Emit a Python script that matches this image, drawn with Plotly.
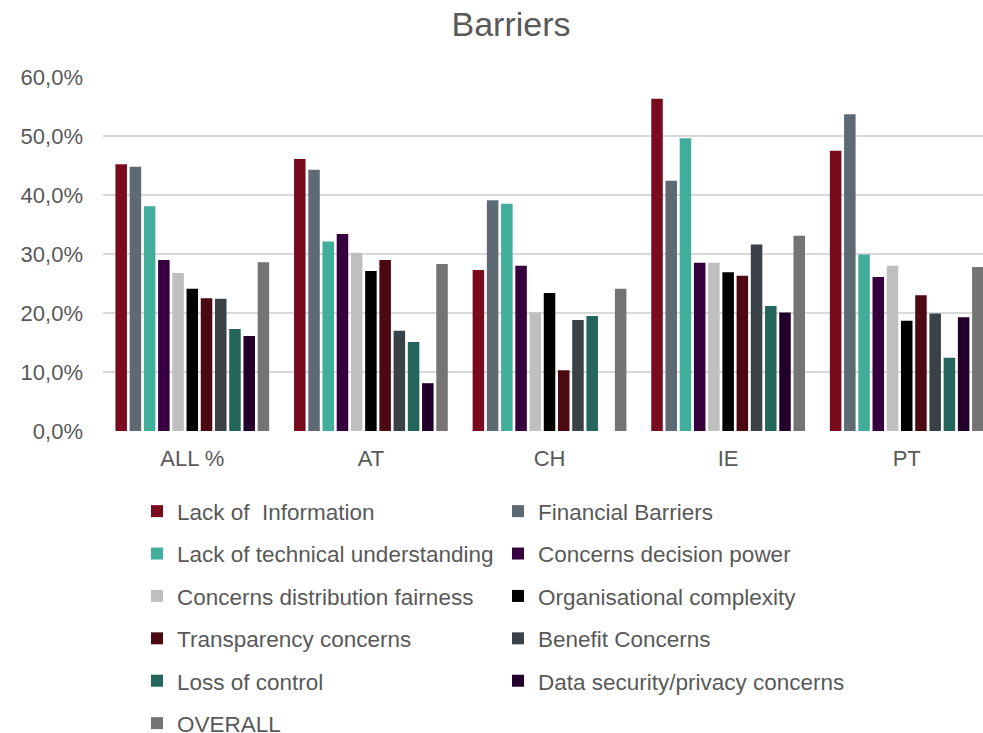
import plotly.graph_objects as go

# Survey groups on the category axis
groups = ["ALL %", "AT", "CH", "IE", "PT"]

# Share of respondents naming each barrier (percent), one list per barrier
lack_of_information = [45.2, 46.1, 27.3, 56.3, 47.5]
financial_barriers = [44.8, 44.3, 39.1, 42.4, 53.7]
lack_of_technical_understanding = [38.1, 32.1, 38.5, 49.6, 29.9]
concerns_decision_power = [29.0, 33.4, 28.0, 28.5, 26.1]
concerns_distribution_fairness = [26.8, 30.2, 20.1, 28.5, 28.0]
organisational_complexity = [24.1, 27.1, 23.4, 26.9, 18.7]
transparency_concerns = [22.5, 29.0, 10.3, 26.3, 23.0]
benefit_concerns = [22.4, 17.0, 18.8, 31.6, 19.9]
loss_of_control = [17.3, 15.1, 19.5, 21.2, 12.4]
data_security_privacy_concerns = [16.1, 8.1, None, 20.1, 19.3]
overall = [28.6, 28.3, 24.1, 33.1, 27.8]

series = [
    ("Lack of  Information", lack_of_information, "#7A0B1E", "legend"),
    ("Financial Barriers", financial_barriers, "#5D6A73", "legend2"),
    ("Lack of technical understanding", lack_of_technical_understanding, "#41AD9B", "legend"),
    ("Concerns decision power", concerns_decision_power, "#36003E", "legend2"),
    ("Concerns distribution fairness", concerns_distribution_fairness, "#BFBFBF", "legend"),
    ("Organisational complexity", organisational_complexity, "#000000", "legend2"),
    ("Transparency concerns", transparency_concerns, "#4C0911", "legend"),
    ("Benefit Concerns", benefit_concerns, "#3A4248", "legend2"),
    ("Loss of control", loss_of_control, "#25665C", "legend"),
    ("Data security/privacy concerns", data_security_privacy_concerns, "#22002B", "legend2"),
    ("OVERALL", overall, "#747474", "legend"),
]

text_color = "#595959"
font_family = "Liberation Sans, Arial, sans-serif"

fig = go.Figure()
for i, (name, values, color, legend_id) in enumerate(series):
    fig.add_trace(go.Bar(
        name=name,
        x=groups,
        y=values,
        marker=dict(color=color, line=dict(width=0)),
        legend=legend_id,
        legendgroup=f"g{i}",
    ))

legend_common = dict(
    orientation="v",
    xref="container",
    yref="container",
    xanchor="left",
    yanchor="top",
    bgcolor="rgba(0,0,0,0)",
    borderwidth=0,
    tracegroupgap=10.15,
    font=dict(family=font_family, size=22.5, color=text_color),
    itemclick=False,
    itemdoubleclick=False,
)

fig.update_layout(
    width=983,
    height=733,
    margin=dict(l=103, r=0, t=77, b=302, autoexpand=False),
    paper_bgcolor="white",
    plot_bgcolor="white",
    separators=",.",
    barmode="group",
    bargap=0.124,
    bargroupgap=0.19,
    font=dict(family=font_family, color=text_color),
    title=dict(
        text="Barriers",
        x=511 / 983,
        xanchor="center",
        xref="container",
        y=1 - 24 / 733,
        yanchor="middle",
        yref="container",
        font=dict(family=font_family, size=34, color=text_color),
    ),
    showlegend=True,
    legend=dict(x=137 / 983, y=1 - 490 / 733, **legend_common),
    legend2=dict(x=498 / 983, y=1 - 490 / 733, **legend_common),
    xaxis=dict(
        type="category",
        range=[-0.5, 4.427],
        showgrid=False,
        showline=False,
        ticks="",
        ticklabelstandoff=12,
        tickfont=dict(family=font_family, size=22, color=text_color),
        fixedrange=True,
    ),
    yaxis=dict(
        range=[0, 60],
        dtick=10,
        tickformat=".1f",
        ticksuffix="%",
        showgrid=True,
        gridcolor="#D9D9D9",
        gridwidth=1.5,
        zeroline=False,
        showline=False,
        ticks="",
        ticklabelstandoff=19,
        tickfont=dict(family=font_family, size=22, color=text_color),
        fixedrange=True,
    ),
)

fig.write_html("out.html")
